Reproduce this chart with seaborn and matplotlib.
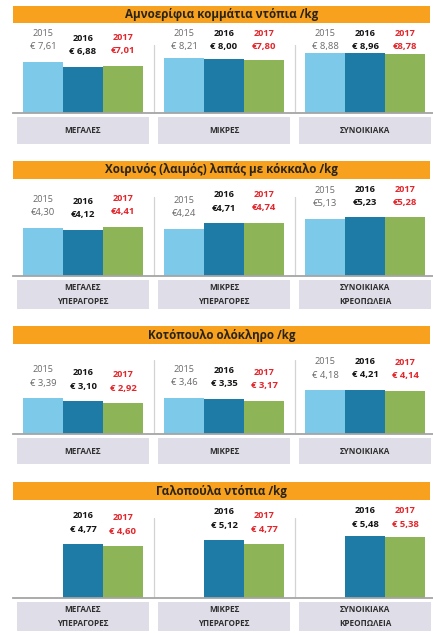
import matplotlib
matplotlib.use("Agg")
import matplotlib.pyplot as plt
import matplotlib.transforms as mtransforms
from matplotlib.patches import Rectangle
import seaborn as sns
import pandas as pd
import numpy as np

# ---------------- data ----------------
years = ["2015", "2016", "2017"]
cats_short = ["ΜΕΓΑΛΕΣ", "ΜΙΚΡΕΣ", "ΣΥΝΟΙΚΙΑΚΑ"]
cats_long = ["ΜΕΓΑΛΕΣ\nΥΠΕΡΑΓΟΡΕΣ", "ΜΙΚΡΕΣ\nΥΠΕΡΑΓΟΡΕΣ", "ΣΥΝΟΙΚΙΑΚΑ\nΚΡΕΟΠΩΛΕΙΑ"]
titles = ["Αμνοερίφια κομμάτια ντόπια /kg",
          "Χοιρινός (λαιμός) λαπάς με κόκκαλο /kg",
          "Κοτόπουλο ολόκληρο /kg",
          "Γαλοπούλα ντόπια /kg"]

lamb_2015 = [7.61, 8.21, 8.88]
lamb_2016 = [6.88, 8.00, 8.96]
lamb_2017 = [7.01, 7.80, 8.78]

pork_2015 = [4.30, 4.24, 5.13]
pork_2016 = [4.12, 4.71, 5.23]
pork_2017 = [4.41, 4.74, 5.28]

chicken_2015 = [3.39, 3.46, 4.18]
chicken_2016 = [3.10, 3.35, 4.21]
chicken_2017 = [2.92, 3.17, 4.14]

turkey_2015 = [np.nan, np.nan, np.nan]
turkey_2016 = [4.77, 5.12, 5.48]
turkey_2017 = [4.60, 4.77, 5.38]

panel_series = [
    (lamb_2015, lamb_2016, lamb_2017),
    (pork_2015, pork_2016, pork_2017),
    (chicken_2015, chicken_2016, chicken_2017),
    (turkey_2015, turkey_2016, turkey_2017),
]
panel_cats = [cats_short, cats_long, cats_short, cats_long]
euro_prefix = [
    {"2015": "€ ", "2016": "€ ", "2017": "€"},
    {"2015": "€", "2016": "€", "2017": "€"},
    {"2015": "€ ", "2016": "€ ", "2017": "€ "},
    {"2015": "€ ", "2016": "€ ", "2017": "€ "},
]

# ---------------- style ----------------
sns.set_style("white")
plt.rcParams["font.family"] = ["Open Sans", "DejaVu Sans"]

bar_colors = {"2015": "#7dc9ea", "2016": "#1d7ba6", "2017": "#8db558"}
text_colors = {"2015": "#6a6a6a", "2016": "#151515", "2017": "#e3262b"}
text_weights = {"2015": "normal", "2016": "bold", "2017": "bold"}
header_color = "#f7a11f"
box_color = "#dfdde8"

W, H = 433, 633
fig = plt.figure(figsize=(W / 100, H / 100), dpi=100)
fig.patch.set_facecolor("white")

# pixel geometry per panel
geo = [
    dict(h0=6, h1=23, base=113, ppe=6.75, b0=117, b1=144, sep=45),
    dict(h0=161, h1=179, base=276, ppe=11.2, b0=280, b1=309, sep=197),
    dict(h0=326, h1=344, base=434, ppe=10.5, b0=438, b1=464, sep=360),
    dict(h0=482, h1=500, base=598, ppe=11.3, b0=602, b1=631, sep=518),
]

left_px, right_px = 13, 433
center0_px, spacing_px = 83, 141
group_w = 0.85


def fy(px):
    return 1 - px / H


for p, g in enumerate(geo):
    series = panel_series[p]
    cats = panel_cats[p]
    rows = []
    for yi, yr in enumerate(years):
        for ci, c in enumerate(cats):
            rows.append({"cat": c, "year": yr, "price": series[yi][ci]})
    df = pd.DataFrame(rows)

    ax_h_px = g["base"] - g["h1"]
    ax = fig.add_axes([left_px / W, fy(g["base"]), (right_px - left_px) / W, ax_h_px / H])
    sns.barplot(data=df, x="cat", y="price", hue="year", hue_order=years, order=cats,
                palette=bar_colors, width=group_w, dodge=True, saturation=1,
                errorbar=None, edgecolor="none", linewidth=0, legend=False, ax=ax)
    ax.set_xlim(-(center0_px - left_px) / spacing_px, (right_px - center0_px) / spacing_px)
    ax.set_ylim(0, ax_h_px / g["ppe"])
    ax.set_xlabel("")
    ax.set_ylabel("")
    ax.set_xticks([])
    ax.set_yticks([])
    for s in ["top", "left", "right"]:
        ax.spines[s].set_visible(False)
    ax.spines["bottom"].set_color("#a5a5a5")
    ax.spines["bottom"].set_linewidth(1.3)
    ax.set_facecolor("none")

    # separators between groups
    sep_frac = (g["base"] - g["sep"]) / ax_h_px
    for xs in [0.5, 1.5]:
        ax.axvline(xs, ymin=0, ymax=sep_frac, color="#d3d3d3", lw=0.9)

    # value labels (above the bar, but never closer than 24px to the header)
    bw = group_w / len(years)
    for yi, yr in enumerate(years):
        for ci in range(len(cats)):
            v = series[yi][ci]
            if np.isnan(v):
                continue
            x = ci + (yi - 1) * bw
            top_px = g["base"] - v * g["ppe"]
            val_px = max(top_px - 15, g["h1"] + 24)
            off = top_px - val_px
            val = euro_prefix[p][yr] + f"{v:.2f}".replace(".", ",")
            ax.annotate(val, (x, v), xytext=(0, off), textcoords="offset pixels",
                        ha="center", va="center", fontsize=6.8,
                        color=text_colors[yr], fontweight=text_weights[yr])
            ax.annotate(yr, (x, v), xytext=(0, off + 13.5), textcoords="offset pixels",
                        ha="center", va="center", fontsize=6.6,
                        color=text_colors[yr], fontweight=text_weights[yr])

    # category boxes
    trans = mtransforms.blended_transform_factory(ax.transData, fig.transFigure)
    for ci, c in enumerate(cats):
        ax.add_patch(Rectangle((ci - 0.465, fy(g["b1"])), 0.93, (g["b1"] - g["b0"]) / H,
                               transform=trans, facecolor=box_color, edgecolor="none",
                               clip_on=False))
        ax.text(ci, fy((g["b0"] + g["b1"]) / 2), c, transform=trans, ha="center",
                va="center", fontsize=5.9, fontweight="bold", color="#2e2e2e",
                linespacing=1.6)

    # header
    fig.add_artist(Rectangle((left_px / W, fy(g["h1"])), (430 - left_px) / W,
                             (g["h1"] - g["h0"]) / H, transform=fig.transFigure,
                             facecolor=header_color, edgecolor="none"))
    fig.text((left_px + 430) / 2 / W, fy((g["h0"] + g["h1"]) / 2), titles[p],
             ha="center", va="center", fontsize=8.4, fontweight="bold", color="#2a2418")

fig.savefig("out.png", dpi=100, facecolor="white")
